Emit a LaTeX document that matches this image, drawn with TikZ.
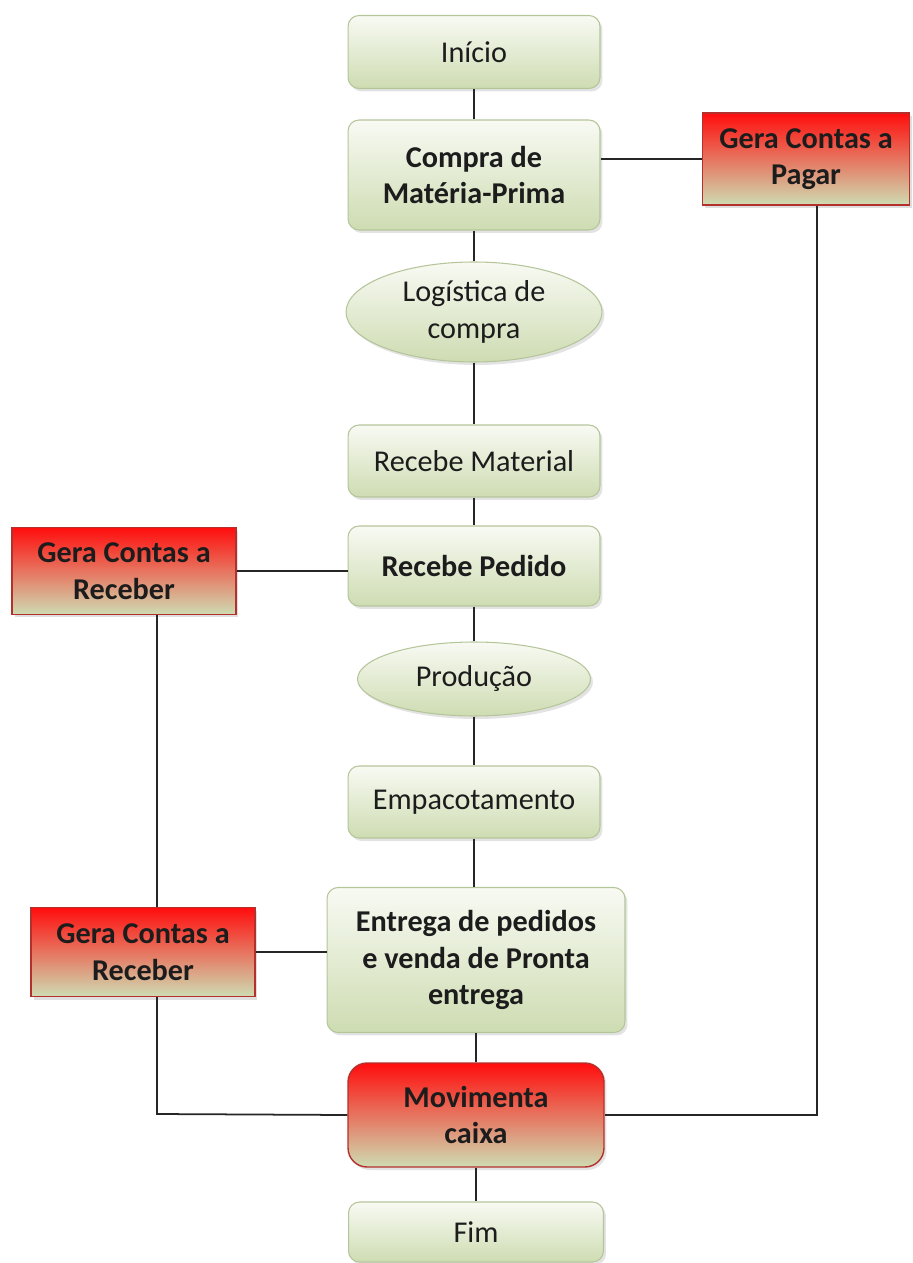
\documentclass[tikz,border=0pt]{standalone}
\usepackage{fontspec}
\setmainfont{Carlito}
\usepackage{tikz}
\usetikzlibrary{shapes.geometric}
\usetikzlibrary{shadows}
\usetikzlibrary{calc}

\definecolor{verdeTopo}{HTML}{F8FAF3}
\definecolor{verdeBase}{HTML}{CEDCB2}
\definecolor{bordaVerde}{HTML}{B5C59A}
\definecolor{bordaConta}{HTML}{B3302C}
\definecolor{vermelho}{HTML}{FF0D0D}
\definecolor{linha}{HTML}{262626}
\definecolor{texto}{HTML}{1C1C1C}

\tikzset{
	passo/.style={rectangle,rounded corners=0.22cm,draw=bordaVerde,line width=0.6pt,
		top color=verdeTopo,bottom color=verdeBase,minimum width=5.04cm,align=center,
		text=texto,font=\fontsize{17.2}{20.8}\selectfont,
		drop shadow={opacity=0.22,shadow xshift=0.05cm,shadow yshift=-0.06cm}},
	etapa/.style={ellipse,draw=bordaVerde,line width=0.6pt,inner sep=0pt,
		top color=verdeTopo,bottom color=verdeBase,align=center,
		text=texto,font=\fontsize{17.2}{20.8}\selectfont,
		drop shadow={opacity=0.22,shadow xshift=0.05cm,shadow yshift=-0.06cm}},
	conta/.style={rectangle,draw=bordaConta,line width=0.8pt,
		top color=vermelho,bottom color=verdeBase,minimum width=4.48cm,align=center,
		text=texto,font=\bfseries\fontsize{17.2}{20.8}\selectfont,
		drop shadow={opacity=0.25,shadow xshift=0.05cm,shadow yshift=-0.06cm}},
	liga/.style={draw=linha,line width=1pt}
}

\begin{document}
\begin{tikzpicture}[x=0.02cm,y=-0.02cm]
	\useasboundingbox (0,0) rectangle (912,1263);
	% coluna central
	\node[passo,minimum height=1.46cm] (inicio) at (474,52) {Início};
	\node[passo,minimum height=2.2cm,font=\bfseries\fontsize{17.2}{20.8}\selectfont] (compra) at (474,175) {Compra de\\Matéria-Prima};
	\node[etapa,minimum width=5.12cm,minimum height=2cm] (logistica) at (474,312) {Logística de\\compra};
	\node[passo,minimum height=1.44cm] (recmat) at (474,461) {Recebe Material};
	\node[passo,minimum height=1.6cm,font=\bfseries\fontsize{17.2}{20.8}\selectfont] (recped) at (474,566) {Recebe Pedido};
	\node[etapa,minimum width=4.66cm,minimum height=1.48cm] (producao) at (474,679) {Produção};
	\node[passo,minimum height=1.44cm] (empac) at (474,802) {Empacotamento};
	\node[passo,minimum width=5.96cm,minimum height=2.9cm,font=\bfseries\fontsize{17.2}{20.8}\selectfont] (entrega) at (476,960) {Entrega de pedidos\\e venda de Pronta\\entrega};
	\node[passo,minimum width=5.12cm,minimum height=2.08cm,rounded corners=0.38cm,
		draw=bordaConta,line width=0.8pt,top color=vermelho,bottom color=verdeBase,
		font=\bfseries\fontsize{17.2}{20.8}\selectfont] (movimenta) at (476,1115) {Movimenta\\caixa};
	\node[passo,minimum width=5.1cm,minimum height=1.2cm] (fim) at (476,1232) {Fim};
	% contas
	\node[conta,minimum width=4.14cm,minimum height=1.84cm] (pagar) at (806,159) {Gera Contas a\\Pagar};
	\node[conta,minimum height=1.74cm] (receber1) at (124,571) {Gera Contas a\\Receber};
	\node[conta,minimum height=1.78cm] (receber2) at (143,952) {Gera Contas a\\Receber};
	\coordinate (dobraE) at (157,1114);
	\coordinate (dobraD) at (817,1115);

	% ligacoes
	\draw[liga] (inicio) -- (compra);
	\draw[liga] (compra) -- (logistica);
	\draw[liga] (logistica) -- (recmat);
	\draw[liga] (recmat) -- (recped);
	\draw[liga] (recped) -- (producao);
	\draw[liga] (producao) -- (empac);
	\draw[liga] (empac.south) -- (empac.south |- entrega.north);
	\draw[liga] (entrega.south -| movimenta.north) -- (movimenta.north);
	\draw[liga] (movimenta) -- (fim);
	\draw[liga] (pagar.west -| compra.east) -- (pagar.west);
	\draw[liga] (receber1.east) -- (receber1.east -| recped.west);
	\draw[liga] (receber2.east) -- (receber2.east -| entrega.west);
	\draw[liga] (receber1.south -| dobraE) -- (receber2.north -| dobraE);
	\draw[liga] (receber2.south -| dobraE) -- (dobraE) -- (movimenta.west);
	\draw[liga] (pagar.south -| dobraD) -- (dobraD) -- (movimenta.east);
\end{tikzpicture}
\end{document}
